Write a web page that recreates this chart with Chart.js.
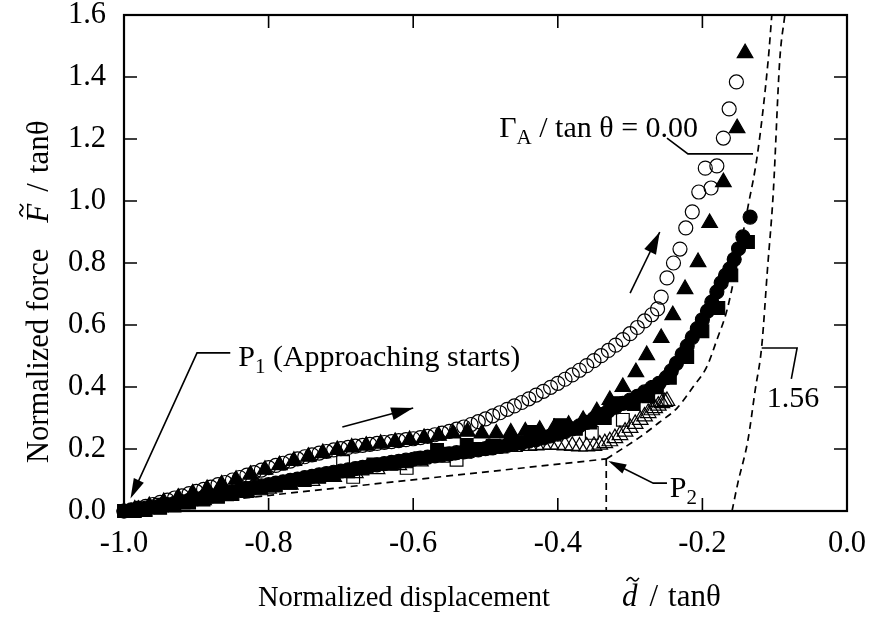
<!DOCTYPE html>
<html><head><meta charset="utf-8">
<script src="https://cdn.jsdelivr.net/npm/chart.js@4/dist/chart.umd.min.js"></script>
<style>html,body{margin:0;padding:0;background:#fff}</style>
</head><body>
<canvas id="c" width="872" height="618"></canvas>
<script>
const FONT = '"Liberation Serif", "Times New Roman", serif';

const xTickLabels = ['-1.0','-0.8','-0.6','-0.4','-0.2','0.0'];
const yTickLabels = ['0.0','0.2','0.4','0.6','0.8','1.0','1.2','1.4','1.6'];

// open circles
const openCircleX = [-1.00,-0.99,-0.98,-0.97,-0.96,-0.95,-0.94,-0.93,-0.92,-0.91,-0.90,-0.89,-0.88,-0.87,-0.86,-0.85,-0.84,-0.83,-0.82,-0.81,-0.80,-0.79,-0.78,-0.77,-0.76,-0.75,-0.74,-0.73,-0.72,-0.71,-0.70,-0.69,-0.68,-0.67,-0.66,-0.65,-0.64,-0.63,-0.62,-0.61,-0.60,-0.59,-0.58,-0.57,-0.56,-0.55,-0.54,-0.53,-0.52,-0.51,-0.50,-0.49,-0.48,-0.47,-0.46,-0.45,-0.44,-0.43,-0.42,-0.41,-0.40,-0.39,-0.38,-0.37,-0.36,-0.35,-0.34,-0.33,-0.32,-0.31,-0.30,-0.29,-0.28,-0.27,-0.262,-0.257,-0.249,-0.240,-0.231,-0.223,-0.214,-0.205,-0.188,-0.196,-0.180,-0.171,-0.163,-0.153];
const openCircleY = [0.000,0.004,0.009,0.015,0.021,0.028,0.035,0.042,0.049,0.056,0.063,0.070,0.077,0.085,0.092,0.100,0.108,0.116,0.124,0.132,0.140,0.147,0.154,0.161,0.168,0.175,0.181,0.187,0.192,0.197,0.201,0.205,0.209,0.212,0.215,0.218,0.221,0.224,0.227,0.230,0.233,0.237,0.241,0.246,0.251,0.257,0.264,0.271,0.279,0.288,0.297,0.307,0.317,0.328,0.339,0.350,0.362,0.374,0.386,0.399,0.412,0.425,0.439,0.454,0.469,0.485,0.501,0.518,0.535,0.553,0.572,0.592,0.613,0.633,0.652,0.690,0.752,0.800,0.845,0.913,0.965,1.029,1.042,1.106,1.113,1.203,1.297,1.384];

// filled triangles
const filledTriangleX = [-0.985,-0.965,-0.945,-0.925,-0.905,-0.885,-0.865,-0.845,-0.825,-0.805,-0.785,-0.765,-0.745,-0.725,-0.705,-0.685,-0.665,-0.645,-0.625,-0.605,-0.585,-0.565,-0.545,-0.525,-0.505,-0.485,-0.465,-0.445,-0.425,-0.405,-0.385,-0.365,-0.346,-0.328,-0.310,-0.292,-0.277,-0.257,-0.241,-0.224,-0.206,-0.190,-0.171,-0.152,-0.141];
const filledTriangleY = [0.005,0.016,0.029,0.043,0.057,0.071,0.086,0.101,0.117,0.133,0.148,0.162,0.175,0.187,0.197,0.205,0.211,0.217,0.223,0.229,0.236,0.243,0.250,0.256,0.250,0.250,0.253,0.257,0.262,0.268,0.278,0.294,0.322,0.358,0.400,0.448,0.503,0.558,0.632,0.716,0.803,0.929,1.061,1.235,1.477];

// filled circles
const filledCircleX = [-1.00,-0.99,-0.98,-0.97,-0.96,-0.95,-0.94,-0.93,-0.92,-0.91,-0.90,-0.89,-0.88,-0.87,-0.86,-0.85,-0.84,-0.83,-0.82,-0.81,-0.80,-0.79,-0.78,-0.77,-0.76,-0.75,-0.74,-0.73,-0.72,-0.71,-0.70,-0.69,-0.68,-0.67,-0.66,-0.65,-0.64,-0.63,-0.62,-0.61,-0.60,-0.59,-0.58,-0.57,-0.56,-0.55,-0.54,-0.53,-0.52,-0.51,-0.50,-0.49,-0.48,-0.47,-0.46,-0.45,-0.44,-0.43,-0.42,-0.41,-0.40,-0.39,-0.38,-0.37,-0.36,-0.35,-0.34,-0.33,-0.32,-0.31,-0.30,-0.29,-0.28,-0.27,-0.26,-0.25,-0.243,-0.236,-0.228,-0.221,-0.214,-0.207,-0.200,-0.193,-0.187,-0.180,-0.174,-0.168,-0.162,-0.156,-0.150,-0.144,-0.134];
const filledCircleY = [0.000,0.002,0.005,0.009,0.013,0.017,0.021,0.025,0.030,0.034,0.039,0.044,0.048,0.053,0.058,0.062,0.067,0.072,0.076,0.081,0.085,0.090,0.094,0.099,0.103,0.108,0.112,0.117,0.121,0.125,0.129,0.133,0.137,0.141,0.145,0.149,0.153,0.157,0.160,0.164,0.167,0.171,0.174,0.178,0.181,0.184,0.188,0.191,0.194,0.197,0.201,0.204,0.208,0.212,0.216,0.220,0.225,0.230,0.236,0.242,0.248,0.256,0.265,0.275,0.286,0.298,0.311,0.323,0.335,0.347,0.358,0.370,0.384,0.398,0.412,0.430,0.452,0.476,0.505,0.532,0.560,0.588,0.617,0.645,0.674,0.707,0.736,0.760,0.781,0.812,0.846,0.884,0.948];

// filled squares
const filledSquareX = [-1.00,-0.985,-0.97,-0.95,-0.93,-0.91,-0.89,-0.87,-0.85,-0.83,-0.81,-0.79,-0.77,-0.75,-0.73,-0.71,-0.69,-0.67,-0.655,-0.63,-0.61,-0.59,-0.567,-0.55,-0.526,-0.51,-0.49,-0.465,-0.438,-0.42,-0.397,-0.375,-0.355,-0.335,-0.314,-0.295,-0.275,-0.263,-0.245,-0.221,-0.200,-0.178,-0.160,-0.137];
const filledSquareY = [0.000,0.000,0.003,0.010,0.018,0.027,0.037,0.046,0.055,0.064,0.073,0.082,0.091,0.100,0.110,0.119,0.128,0.137,0.150,0.152,0.160,0.170,0.197,0.185,0.213,0.200,0.210,0.225,0.255,0.240,0.277,0.265,0.285,0.300,0.348,0.345,0.370,0.400,0.430,0.497,0.580,0.655,0.760,0.868];

// open squares
const openSquareX = [-0.95,-0.83,-0.697,-0.683,-0.609,-0.54,-0.353,-0.310,-0.262];
const openSquareY = [0.020,0.070,0.158,0.110,0.139,0.165,0.252,0.294,0.358];

// open triangles
const openTriangleX = [-0.98,-0.95,-0.92,-0.89,-0.86,-0.83,-0.80,-0.77,-0.74,-0.71,-0.68,-0.65,-0.62,-0.59,-0.56,-0.53,-0.50,-0.48,-0.46,-0.44,-0.43,-0.42,-0.41,-0.40,-0.39,-0.38,-0.37,-0.36,-0.35,-0.342,-0.335,-0.328,-0.321,-0.314,-0.307,-0.300,-0.293,-0.286,-0.280,-0.275,-0.270,-0.266,-0.261,-0.256,-0.252,-0.249];
const openTriangleY = [0.004,0.012,0.022,0.035,0.048,0.060,0.072,0.085,0.097,0.110,0.122,0.135,0.148,0.160,0.172,0.185,0.196,0.202,0.207,0.210,0.212,0.213,0.214,0.213,0.212,0.210,0.208,0.208,0.210,0.214,0.219,0.225,0.235,0.245,0.256,0.268,0.281,0.294,0.305,0.316,0.325,0.332,0.340,0.348,0.352,0.355];

// theoretical curves (dashed)
const theory000LineX = [-1.0, -0.333];
const theory000LineY = [0.0, 0.168];
const theory000DropX = [-0.333, -0.333];
const theory000DropY = [0.168, 0.0];
const theory000CurveX = [-0.333,-0.318,-0.286,-0.259,-0.235,-0.213,-0.194,-0.180,-0.166,-0.151,-0.137,-0.124,-0.109,-0.104];
const theory000CurveY = [0.168,0.190,0.239,0.287,0.332,0.400,0.465,0.552,0.648,0.810,0.981,1.148,1.455,1.600];
const theory156X = [-0.159,-0.151,-0.137,-0.127,-0.118,-0.110,-0.102,-0.093,-0.086];
const theory156Y = [0.000,0.090,0.229,0.390,0.530,0.780,1.026,1.455,1.600];

const pts = (xs, ys) => xs.map((x, i) => ({x: x, y: ys[i]}));

const markerBase = {showLine: false, borderColor: '#000', borderWidth: 1.2, clip: false, pointHoverRadius: 0};
const dashBase = {showLine: true, pointRadius: 0, borderColor: '#000', borderWidth: 1.7, borderDash: [7, 5], fill: false, order: 10, clip: false};

const datasets = [
  Object.assign({}, markerBase, {label: 'open circle', data: pts(openCircleX, openCircleY), pointStyle: 'circle', pointRadius: 7, pointBackgroundColor: 'rgba(0,0,0,0)', pointBorderColor: '#000', order: 1}),
  Object.assign({}, markerBase, {label: 'filled triangle', data: pts(filledTriangleX, filledTriangleY), pointStyle: 'triangle', pointRadius: 9, pointBackgroundColor: '#000', pointBorderColor: '#000', order: 2}),
  Object.assign({}, markerBase, {label: 'filled circle', data: pts(filledCircleX, filledCircleY), pointStyle: 'circle', pointRadius: 7, pointBackgroundColor: '#000', pointBorderColor: '#000', order: 3}),
  Object.assign({}, markerBase, {label: 'filled square', data: pts(filledSquareX, filledSquareY), pointStyle: 'rect', pointRadius: 9, pointBackgroundColor: '#000', pointBorderColor: '#000', order: 4}),
  Object.assign({}, markerBase, {label: 'open square', data: pts(openSquareX, openSquareY), pointStyle: 'rect', pointRadius: 9, pointBackgroundColor: 'rgba(0,0,0,0)', pointBorderColor: '#000', order: 5}),
  Object.assign({}, markerBase, {label: 'open triangle', data: pts(openTriangleX, openTriangleY), pointStyle: 'triangle', pointRadius: 9, pointBackgroundColor: 'rgba(0,0,0,0)', pointBorderColor: '#000', order: 6}),
  Object.assign({}, dashBase, {label: 'theory 0.00 line', data: pts(theory000LineX, theory000LineY), tension: 0}),
  Object.assign({}, dashBase, {label: 'theory 0.00 drop', data: pts(theory000DropX, theory000DropY), tension: 0}),
  Object.assign({}, dashBase, {label: 'theory 0.00 curve', data: pts(theory000CurveX, theory000CurveY), cubicInterpolationMode: 'monotone'}),
  Object.assign({}, dashBase, {label: 'theory 1.56', data: pts(theory156X, theory156Y), cubicInterpolationMode: 'monotone'})
];

function font(size, italic) { return (italic ? 'italic ' : '') + size + 'px ' + FONT; }

function richWidth(ctx, parts) {
  let w = 0;
  parts.forEach(p => { ctx.font = font(p.size || 30, p.italic); w += ctx.measureText(p.t).width + (p.gap || 0); });
  return w;
}
function drawRich(ctx, parts, x, y) {
  let cx = x;
  ctx.textBaseline = 'alphabetic';
  ctx.textAlign = 'left';
  parts.forEach(p => {
    const sz = p.size || 30;
    ctx.font = font(sz, p.italic);
    const w = ctx.measureText(p.t).width;
    ctx.fillText(p.t, cx, y + (p.dy || 0));
    if (p.tilde) drawTilde(ctx, cx + w / 2 + 3, y - sz * 0.86, sz * 0.4);
    cx += w + (p.gap || 0);
  });
}
function drawTilde(ctx, cx, cy, w) {
  ctx.save();
  ctx.lineWidth = 1.6;
  ctx.beginPath();
  ctx.moveTo(cx - w / 2, cy + 1.5);
  ctx.bezierCurveTo(cx - w / 4, cy - 3, cx - w / 8, cy - 2, cx, cy);
  ctx.bezierCurveTo(cx + w / 8, cy + 2, cx + w / 4, cy + 3, cx + w / 2, cy - 1.5);
  ctx.stroke();
  ctx.restore();
}
function arrowHead(ctx, x1, y1, x2, y2, len, half) {
  const a = Math.atan2(y2 - y1, x2 - x1);
  ctx.beginPath();
  ctx.moveTo(x2, y2);
  ctx.lineTo(x2 - len * Math.cos(a) + half * Math.sin(a), y2 - len * Math.sin(a) - half * Math.cos(a));
  ctx.lineTo(x2 - len * Math.cos(a) - half * Math.sin(a), y2 - len * Math.sin(a) + half * Math.cos(a));
  ctx.closePath();
  ctx.fill();
}

const TICK = 13;
const deco = {
  id: 'deco',
  afterDatasetsDraw(chart) {
    const {ctx, chartArea: a, scales: {x, y}} = chart;
    const P = (vx, vy) => [x.getPixelForValue(vx), y.getPixelForValue(vy)];
    ctx.save();
    ctx.strokeStyle = '#000';
    ctx.fillStyle = '#000';
    ctx.lineWidth = 1.6;
    ctx.beginPath();
    x.ticks.forEach(t => {
      const px = x.getPixelForValue(t.value);
      ctx.moveTo(px, a.bottom); ctx.lineTo(px, a.bottom - TICK);
      ctx.moveTo(px, a.top); ctx.lineTo(px, a.top + TICK);
    });
    y.ticks.forEach(t => {
      const py = y.getPixelForValue(t.value);
      ctx.moveTo(a.left, py); ctx.lineTo(a.left + TICK, py);
      ctx.moveTo(a.right, py); ctx.lineTo(a.right - TICK, py);
    });
    ctx.stroke();
    ctx.lineWidth = 2.2;
    ctx.strokeRect(a.left, a.top, a.right - a.left, a.bottom - a.top);

    ctx.lineWidth = 1.6;
    const poly = (list) => {
      ctx.beginPath();
      list.forEach((p, i) => { const q = P(p[0], p[1]); if (i) ctx.lineTo(q[0], q[1]); else ctx.moveTo(q[0], q[1]); });
      ctx.stroke();
    };
    poly([[-0.249, 1.203], [-0.220, 1.152], [-0.130, 1.152]]);
    poly([[-0.118, 0.526], [-0.069, 0.526], [-0.077, 0.426]]);
    poly([[-0.249, 0.090], [-0.268, 0.090], [-0.326, 0.157]]);
    { const s = P(-0.268, 0.090), e = P(-0.330, 0.161); arrowHead(ctx, s[0], s[1], e[0], e[1], 18, 5); }
    poly([[-0.853, 0.510], [-0.899, 0.510], [-0.988, 0.055]]);
    { const s = P(-0.899, 0.510), e = P(-0.991, 0.040); arrowHead(ctx, s[0], s[1], e[0], e[1], 20, 5.5); }
    { const s = P(-0.698, 0.271), e = P(-0.600, 0.332);
      ctx.beginPath(); ctx.moveTo(s[0], s[1]); ctx.lineTo(e[0], e[1]); ctx.stroke(); arrowHead(ctx, s[0], s[1], e[0], e[1], 22, 6.5); }
    { const s = P(-0.300, 0.703), e = P(-0.259, 0.900);
      ctx.beginPath(); ctx.moveTo(s[0], s[1]); ctx.lineTo(e[0], e[1]); ctx.stroke(); arrowHead(ctx, s[0], s[1], e[0], e[1], 22, 6.5); }

    const gParts = [{t: 'Γ'}, {t: 'A', size: 21, dy: 7}, {t: ' / tan θ = 0.00'}];
    { const e = P(-0.206, 1.206); const w = richWidth(ctx, gParts); drawRich(ctx, gParts, e[0] - w, e[1]); }
    { const s = P(-0.111, 0.335); drawRich(ctx, [{t: '1.56'}], s[0], s[1]); }
    { const s = P(-0.245, 0.045); drawRich(ctx, [{t: 'P'}, {t: '2', size: 21, dy: 7}], s[0], s[1]); }
    { const s = P(-0.842, 0.468); drawRich(ctx, [{t: 'P'}, {t: '1', size: 21, dy: 7}, {t: ' (Approaching starts)'}], s[0], s[1]); }

    // x axis title
    drawRich(ctx, [{t: 'Normalized displacement', size: 28.5}], 258, 606);
    drawRich(ctx, [{t: 'd', italic: true, tilde: true, size: 31, gap: 12}, {t: '/', size: 31, gap: 10}, {t: 'tanθ', size: 31}], 622, 606);
    // y axis title
    const yt = [{t: 'Normalized force', size: 30.5, gap: 26}, {t: 'F', italic: true, tilde: true, size: 31, gap: 12}, {t: '/', size: 31, gap: 10}, {t: 'tanθ', size: 31}];
    ctx.save();
    ctx.translate(48, 463);
    ctx.rotate(-Math.PI / 2);
    drawRich(ctx, yt, 0, 0);
    ctx.restore();
    ctx.restore();
  }
};

new Chart(document.getElementById('c'), {
  type: 'scatter',
  data: {datasets: datasets},
  options: {
    responsive: false,
    animation: false,
    devicePixelRatio: 1,
    layout: {padding: {left: 0, right: 25, top: 15, bottom: 0}},
    plugins: {legend: {display: false}, tooltip: {enabled: false}},
    events: [],
    scales: {
      x: {
        type: 'linear', min: -1, max: 0,
        grid: {display: false, drawTicks: false},
        border: {display: false},
        ticks: {stepSize: 0.2, padding: 18, color: '#000', maxRotation: 0, autoSkip: false,
          font: {family: FONT, size: 30.5, lineHeight: 1},
          callback: (v, i) => xTickLabels[i]},
        afterFit: s => { s.height = 107; s.paddingLeft = 0; s.paddingRight = 0; }
      },
      y: {
        type: 'linear', min: 0, max: 1.6,
        grid: {display: false, drawTicks: false},
        border: {display: false},
        ticks: {stepSize: 0.2, padding: 18, color: '#000', autoSkip: false,
          font: {family: FONT, size: 30.5, lineHeight: 1},
          callback: (v, i) => yTickLabels[i]},
        afterFit: s => { s.width = 124; s.paddingTop = 0; s.paddingBottom = 0; }
      }
    }
  },
  plugins: [deco]
});
</script>
</body></html>
